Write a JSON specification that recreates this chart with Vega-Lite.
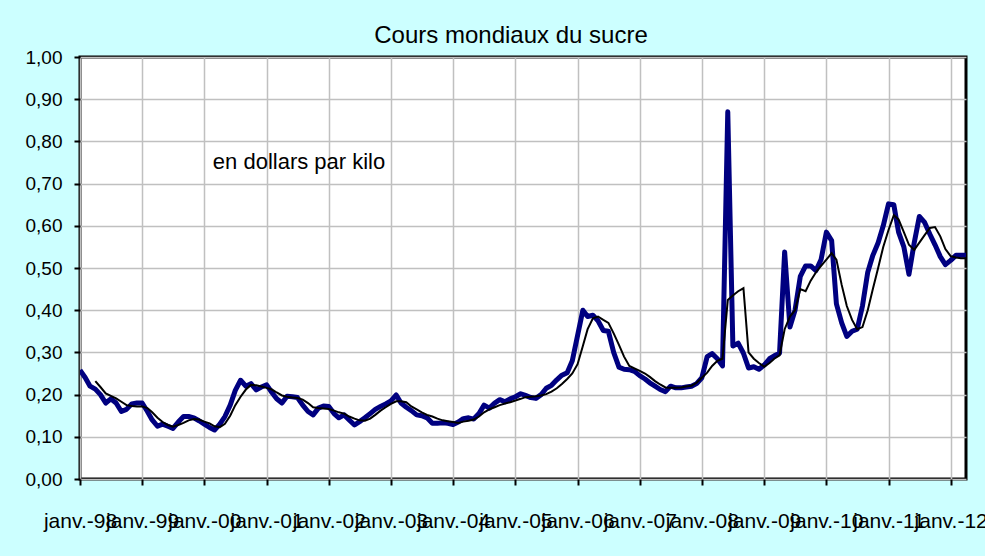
{
  "$schema": "https://vega.github.io/schema/vega-lite/v6.json",
  "width": 886,
  "height": 422,
  "autosize": {"type": "none"},
  "padding": {"left": 80, "top": 57, "right": 19, "bottom": 77},
  "background": "#CCFFFF",
  "title": {"text": "Cours mondiaux du sucre", "fontSize": 24, "font": "Liberation Sans", "fontWeight": "normal", "color": "#000000", "anchor": "middle", "offset": 0, "dx": -12},
  "config": {
    "view": {"stroke": "#000000", "strokeWidth": 3, "fill": "#FFFFFF"},
    "axis": {"labelFont": "Liberation Sans", "labelFontSize": 19, "labelColor": "#000000", "gridColor": "#C0C0C0", "gridWidth": 1.5, "gridOpacity": 1, "tickColor": "#000000", "tickWidth": 2, "domain": false, "title": null}
  },
  "data": {"values": [
    {"d":"1998-01-01","b":0.258,"k":null},{"d":"1998-02-01","b":0.24,"k":null},{"d":"1998-03-01","b":0.22,"k":null},{"d":"1998-04-01","b":0.213,"k":0.232},{"d":"1998-05-01","b":0.2,"k":0.218},{"d":"1998-06-01","b":0.18,"k":0.203},{"d":"1998-07-01","b":0.19,"k":0.197},{"d":"1998-08-01","b":0.18,"k":0.191},{"d":"1998-09-01","b":0.16,"k":0.183},{"d":"1998-10-01","b":0.165,"k":0.175},{"d":"1998-11-01","b":0.178,"k":0.173},{"d":"1998-12-01","b":0.18,"k":0.172},
    {"d":"1999-01-01","b":0.18,"k":0.172},{"d":"1999-02-01","b":0.16,"k":0.168},{"d":"1999-03-01","b":0.14,"k":0.158},{"d":"1999-04-01","b":0.125,"k":0.145},{"d":"1999-05-01","b":0.13,"k":0.135},{"d":"1999-06-01","b":0.125,"k":0.128},{"d":"1999-07-01","b":0.12,"k":0.124},{"d":"1999-08-01","b":0.135,"k":0.128},{"d":"1999-09-01","b":0.148,"k":0.133},{"d":"1999-10-01","b":0.148,"k":0.139},{"d":"1999-11-01","b":0.145,"k":0.142},{"d":"1999-12-01","b":0.138,"k":0.141},
    {"d":"2000-01-01","b":0.13,"k":0.136},{"d":"2000-02-01","b":0.122,"k":0.132},{"d":"2000-03-01","b":0.116,"k":0.125},{"d":"2000-04-01","b":0.13,"k":0.123},{"d":"2000-05-01","b":0.148,"k":0.131},{"d":"2000-06-01","b":0.175,"k":0.15},{"d":"2000-07-01","b":0.21,"k":0.175},{"d":"2000-08-01","b":0.234,"k":0.195},{"d":"2000-09-01","b":0.22,"k":0.212},{"d":"2000-10-01","b":0.226,"k":0.223},{"d":"2000-11-01","b":0.211,"k":0.222},{"d":"2000-12-01","b":0.218,"k":0.219},
    {"d":"2001-01-01","b":0.223,"k":0.216},{"d":"2001-02-01","b":0.205,"k":0.212},{"d":"2001-03-01","b":0.19,"k":0.205},{"d":"2001-04-01","b":0.18,"k":0.198},{"d":"2001-05-01","b":0.196,"k":0.195},{"d":"2001-06-01","b":0.195,"k":0.193},{"d":"2001-07-01","b":0.193,"k":0.192},{"d":"2001-08-01","b":0.175,"k":0.188},{"d":"2001-09-01","b":0.16,"k":0.18},{"d":"2001-10-01","b":0.152,"k":0.17},{"d":"2001-11-01","b":0.168,"k":0.168},{"d":"2001-12-01","b":0.173,"k":0.167},
    {"d":"2002-01-01","b":0.172,"k":0.166},{"d":"2002-02-01","b":0.155,"k":0.162},{"d":"2002-03-01","b":0.145,"k":0.158},{"d":"2002-04-01","b":0.152,"k":0.155},{"d":"2002-05-01","b":0.14,"k":0.148},{"d":"2002-06-01","b":0.128,"k":0.143},{"d":"2002-07-01","b":0.136,"k":0.139},{"d":"2002-08-01","b":0.145,"k":0.138},{"d":"2002-09-01","b":0.155,"k":0.143},{"d":"2002-10-01","b":0.165,"k":0.152},{"d":"2002-11-01","b":0.172,"k":0.162},{"d":"2002-12-01","b":0.178,"k":0.17},
    {"d":"2003-01-01","b":0.185,"k":0.178},{"d":"2003-02-01","b":0.199,"k":0.184},{"d":"2003-03-01","b":0.18,"k":0.184},{"d":"2003-04-01","b":0.17,"k":0.182},{"d":"2003-05-01","b":0.162,"k":0.172},{"d":"2003-06-01","b":0.152,"k":0.165},{"d":"2003-07-01","b":0.15,"k":0.158},{"d":"2003-08-01","b":0.145,"k":0.152},{"d":"2003-09-01","b":0.132,"k":0.148},{"d":"2003-10-01","b":0.132,"k":0.143},{"d":"2003-11-01","b":0.133,"k":0.139},{"d":"2003-12-01","b":0.132,"k":0.137},
    {"d":"2004-01-01","b":0.129,"k":0.135},{"d":"2004-02-01","b":0.135,"k":0.133},{"d":"2004-03-01","b":0.143,"k":0.136},{"d":"2004-04-01","b":0.145,"k":0.138},{"d":"2004-05-01","b":0.142,"k":0.141},{"d":"2004-06-01","b":0.155,"k":0.148},{"d":"2004-07-01","b":0.175,"k":0.158},{"d":"2004-08-01","b":0.168,"k":0.165},{"d":"2004-09-01","b":0.18,"k":0.17},{"d":"2004-10-01","b":0.188,"k":0.175},{"d":"2004-11-01","b":0.183,"k":0.179},{"d":"2004-12-01","b":0.19,"k":0.182},
    {"d":"2005-01-01","b":0.195,"k":0.186},{"d":"2005-02-01","b":0.202,"k":0.19},{"d":"2005-03-01","b":0.198,"k":0.194},{"d":"2005-04-01","b":0.193,"k":0.195},{"d":"2005-05-01","b":0.191,"k":0.196},{"d":"2005-06-01","b":0.2,"k":0.198},{"d":"2005-07-01","b":0.215,"k":0.201},{"d":"2005-08-01","b":0.222,"k":0.207},{"d":"2005-09-01","b":0.235,"k":0.215},{"d":"2005-10-01","b":0.246,"k":0.225},{"d":"2005-11-01","b":0.252,"k":0.237},{"d":"2005-12-01","b":0.28,"k":0.25},
    {"d":"2006-01-01","b":0.34,"k":0.272},{"d":"2006-02-01","b":0.4,"k":0.315},{"d":"2006-03-01","b":0.385,"k":0.355},{"d":"2006-04-01","b":0.388,"k":0.381},{"d":"2006-05-01","b":0.375,"k":0.385},{"d":"2006-06-01","b":0.352,"k":0.377},{"d":"2006-07-01","b":0.35,"k":0.37},{"d":"2006-08-01","b":0.3,"k":0.345},{"d":"2006-09-01","b":0.265,"k":0.318},{"d":"2006-10-01","b":0.26,"k":0.29},{"d":"2006-11-01","b":0.259,"k":0.268},{"d":"2006-12-01","b":0.255,"k":0.262},
    {"d":"2007-01-01","b":0.245,"k":0.256},{"d":"2007-02-01","b":0.237,"k":0.25},{"d":"2007-03-01","b":0.228,"k":0.242},{"d":"2007-04-01","b":0.22,"k":0.232},{"d":"2007-05-01","b":0.212,"k":0.224},{"d":"2007-06-01","b":0.207,"k":0.217},{"d":"2007-07-01","b":0.22,"k":0.216},{"d":"2007-08-01","b":0.216,"k":0.216},{"d":"2007-09-01","b":0.216,"k":0.217},{"d":"2007-10-01","b":0.218,"k":0.219},{"d":"2007-11-01","b":0.22,"k":0.221},{"d":"2007-12-01","b":0.226,"k":0.228},
    {"d":"2008-01-01","b":0.24,"k":0.24},{"d":"2008-02-01","b":0.29,"k":0.252},{"d":"2008-03-01","b":0.297,"k":0.268},{"d":"2008-04-01","b":0.285,"k":0.28},{"d":"2008-05-01","b":0.268,"k":0.285},{"d":"2008-06-01","b":0.87,"k":0.424},{"d":"2008-07-01","b":0.315,"k":0.435},{"d":"2008-08-01","b":0.322,"k":0.445},{"d":"2008-09-01","b":0.298,"k":0.452},{"d":"2008-10-01","b":0.263,"k":0.3},{"d":"2008-11-01","b":0.266,"k":0.285},{"d":"2008-12-01","b":0.26,"k":0.275},
    {"d":"2009-01-01","b":0.27,"k":0.266},{"d":"2009-02-01","b":0.285,"k":0.275},{"d":"2009-03-01","b":0.292,"k":0.285},{"d":"2009-04-01","b":0.298,"k":0.293},{"d":"2009-05-01","b":0.538,"k":0.355},{"d":"2009-06-01","b":0.36,"k":0.385},{"d":"2009-07-01","b":0.4,"k":0.4},{"d":"2009-08-01","b":0.48,"k":0.45},{"d":"2009-09-01","b":0.505,"k":0.445},{"d":"2009-10-01","b":0.505,"k":0.47},{"d":"2009-11-01","b":0.494,"k":0.49},{"d":"2009-12-01","b":0.52,"k":0.505},
    {"d":"2010-01-01","b":0.585,"k":0.52},{"d":"2010-02-01","b":0.565,"k":0.535},{"d":"2010-03-01","b":0.415,"k":0.52},{"d":"2010-04-01","b":0.37,"k":0.46},{"d":"2010-05-01","b":0.338,"k":0.41},{"d":"2010-06-01","b":0.35,"k":0.377},{"d":"2010-07-01","b":0.355,"k":0.355},{"d":"2010-08-01","b":0.41,"k":0.36},{"d":"2010-09-01","b":0.49,"k":0.4},{"d":"2010-10-01","b":0.53,"k":0.45},{"d":"2010-11-01","b":0.56,"k":0.5},{"d":"2010-12-01","b":0.6,"k":0.55},
    {"d":"2011-01-01","b":0.652,"k":0.59},{"d":"2011-02-01","b":0.65,"k":0.625},{"d":"2011-03-01","b":0.585,"k":0.615},{"d":"2011-04-01","b":0.55,"k":0.585},{"d":"2011-05-01","b":0.485,"k":0.555},{"d":"2011-06-01","b":0.56,"k":0.543},{"d":"2011-07-01","b":0.622,"k":0.56},{"d":"2011-08-01","b":0.608,"k":0.578},{"d":"2011-09-01","b":0.58,"k":0.595},{"d":"2011-10-01","b":0.555,"k":0.597},{"d":"2011-11-01","b":0.527,"k":0.575},{"d":"2011-12-01","b":0.508,"k":0.545},
    {"d":"2012-01-01","b":0.518,"k":0.528},{"d":"2012-02-01","b":0.53,"k":0.525},{"d":"2012-03-01","b":0.53,"k":0.523},{"d":"2012-04-01","b":0.53,"k":0.523}
  ]},
  "encoding": {
    "x": {
      "field": "d", "type": "temporal",
      "scale": {"type": "utc", "domain": ["1998-01-01", "2012-03-31"]},
      "axis": {"tickCount": {"interval": "year", "step": 1}, "labelExpr": "'janv.-' + utcFormat(datum.value, '%y')", "labelOverlap": false, "labelBound": false, "labelFlush": false, "labelFontSize": 21, "tickSize": 6, "labelPadding": 25, "grid": true}
    }
  },
  "layer": [
    {
      "mark": {"type": "line", "color": "#000080", "strokeWidth": 5, "clip": true, "strokeJoin": "round"},
      "encoding": {
        "y": {"field": "b", "type": "quantitative", "scale": {"domain": [0, 1]},
          "axis": {"values": [0, 0.1, 0.2, 0.3, 0.4, 0.5, 0.6, 0.7, 0.8, 0.9, 1.0], "labelExpr": "replace(format(datum.value, '.2f'), '.', ',')", "tickSize": 6, "labelPadding": 12, "grid": true}}
      }
    },
    {
      "mark": {"type": "line", "color": "#000000", "strokeWidth": 2, "clip": true},
      "encoding": {"y": {"field": "k", "type": "quantitative"}}
    },
    {
      "data": {"values": [{"label": "en dollars par kilo", "when": "2000-02-20", "at": 0.751}]},
      "mark": {"type": "text", "font": "Liberation Sans", "fontSize": 22, "align": "left", "baseline": "middle", "color": "#000000"},
      "encoding": {
        "text": {"field": "label"},
        "x": {"field": "when", "type": "temporal"},
        "y": {"field": "at", "type": "quantitative"}
      }
    }
  ]
}
